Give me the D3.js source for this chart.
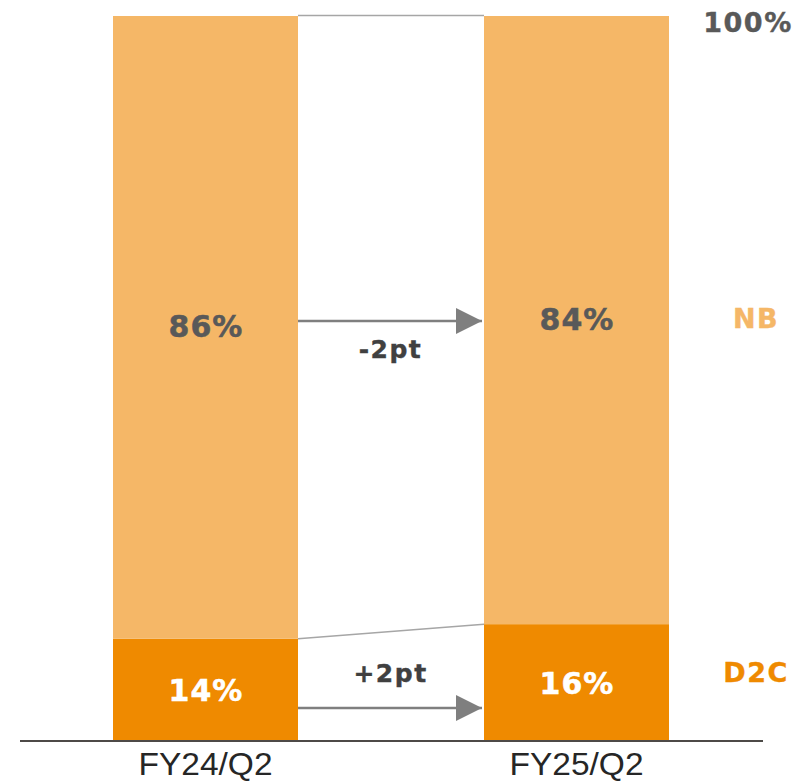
<!DOCTYPE html>
<html>
<head>
<meta charset="utf-8">
<script src="https://cdn.jsdelivr.net/npm/d3@7"></script>
<style>
  html, body { margin: 0; padding: 0; background: #fff; }
  svg { display: block; }
</style>
</head>
<body>
<svg id="chart" width="800" height="782"></svg>
<script>
// Share of sales by channel (%)
const categories = ["FY24/Q2", "FY25/Q2"];
const d2cShare = [14, 16];
const nbShare = [86, 84];
const seriesNames = ["D2C", "NB"];
const changeLabels = ["+2pt", "-2pt"];
const totalLabel = "100%";

const colors = { D2C: "#ef8a00", NB: "#f5b767" };
const boldFont = "'DejaVu Sans', Verdana, sans-serif";
const axisFont = "'Liberation Sans', Arial, sans-serif";

const svg = d3.select("#chart");

// bar centres and vertical share scale
const xc = d3.scalePoint().domain(categories).range([205.5, 576.5]);
const barW = 185;
const y = d3.scaleLinear().domain([0, 100]).range([740, 16]);

const rows = categories.map((c, i) => ({ cat: c, d2c: d2cShare[i], nb: nbShare[i] }));
const stack = d3.stack().keys(seriesNames)(rows.map(r => ({ cat: r.cat, D2C: r.d2c, NB: r.nb })));

// stacked bars
svg.append("g").selectAll("g")
  .data(stack)
  .join("g")
  .attr("fill", s => colors[s.key])
  .selectAll("rect")
  .data(s => s)
  .join("rect")
  .attr("x", d => xc(d.data.cat) - barW / 2)
  .attr("width", barW)
  .attr("y", d => y(d[1]))
  .attr("height", d => y(d[0]) - y(d[1]));

// connector lines between the bar tops
const conn = svg.append("g").attr("stroke", "#a6a6a6").attr("stroke-width", 1.5).attr("fill", "none");
const xr0 = xc(categories[0]) + barW / 2, xl1 = xc(categories[1]) - barW / 2;
conn.append("line")
  .attr("x1", xr0).attr("x2", xl1)
  .attr("y1", y(d2cShare[0] + nbShare[0]) - 0.5).attr("y2", y(d2cShare[1] + nbShare[1]) - 0.5);
conn.append("line")
  .attr("x1", xr0).attr("x2", xl1)
  .attr("y1", y(d2cShare[0])).attr("y2", y(d2cShare[1]));

// baseline axis
svg.append("line")
  .attr("x1", 20).attr("x2", 763)
  .attr("y1", y(0) + 1).attr("y2", y(0) + 1)
  .attr("stroke", "#4d4a47").attr("stroke-width", 2);

svg.append("g").selectAll("text")
  .data(categories)
  .join("text")
  .attr("x", d => xc(d))
  .attr("y", 775)
  .attr("text-anchor", "middle")
  .attr("font-family", axisFont)
  .attr("font-size", 31)
  .attr("textLength", 134)
  .attr("lengthAdjust", "spacingAndGlyphs")
  .attr("fill", "#262626")
  .text(d => d);

// value labels inside bars
const valLabels = svg.append("g")
  .attr("text-anchor", "middle")
  .attr("font-family", boldFont)
  .attr("font-weight", "bold")
  .attr("font-size", 30)
  .attr("letter-spacing", 1)
  .attr("stroke-width", 0.5);
valLabels.selectAll("text.nb")
  .data(rows)
  .join("text")
  .attr("class", "nb")
  .attr("x", d => xc(d.cat) + 0.5)
  .attr("y", d => (y(100) + y(d.d2c)) / 2 + 10)
  .attr("fill", "#595959").attr("stroke", "#595959")
  .text(d => d.nb + "%");
valLabels.selectAll("text.d2c")
  .data(rows)
  .join("text")
  .attr("class", "d2c")
  .attr("x", d => xc(d.cat) + 0.5)
  .attr("y", d => (y(0) + y(d.d2c)) / 2 + 12)
  .attr("fill", "#ffffff").attr("stroke", "#ffffff")
  .text(d => d.d2c + "%");

// change arrows
svg.append("defs").append("marker")
  .attr("id", "tri")
  .attr("viewBox", "0 0 10 10")
  .attr("refX", 10).attr("refY", 5)
  .attr("markerUnits", "userSpaceOnUse")
  .attr("markerWidth", 28).attr("markerHeight", 26)
  .attr("orient", "auto")
  .append("path")
  .attr("d", "M0,0L10,5L0,10Z")
  .attr("fill", "#7f7f7f");

const arrowY = [708, 321];
const arrowTextY = [682, 358];
changeLabels.forEach((lab, i) => {
  svg.append("line")
    .attr("x1", xr0).attr("x2", xl1 - 2)
    .attr("y1", arrowY[i]).attr("y2", arrowY[i])
    .attr("stroke", "#7f7f7f").attr("stroke-width", 2.5)
    .attr("marker-end", "url(#tri)");
  svg.append("text")
    .attr("x", 390.5).attr("y", arrowTextY[i])
    .attr("text-anchor", "middle")
    .attr("font-family", boldFont)
    .attr("font-weight", "bold")
    .attr("font-size", 25)
    .attr("letter-spacing", 1.5)
    .attr("fill", "#404040").attr("stroke", "#404040").attr("stroke-width", 0.4)
    .text(lab);
});

// right-hand legend labels
svg.append("text")
  .attr("x", 748).attr("y", 32)
  .attr("text-anchor", "middle")
  .attr("font-family", boldFont).attr("font-weight", "bold").attr("font-size", 27)
  .attr("letter-spacing", 1.5)
  .attr("fill", "#595959").attr("stroke", "#595959").attr("stroke-width", 0.4)
  .text(totalLabel);
const legendY = { NB: 328, D2C: 682 };
svg.append("g").selectAll("text")
  .data(seriesNames)
  .join("text")
  .attr("x", 756)
  .attr("y", d => legendY[d])
  .attr("text-anchor", "middle")
  .attr("font-family", boldFont).attr("font-weight", "bold").attr("font-size", 27)
  .attr("letter-spacing", 1.5)
  .attr("fill", d => colors[d]).attr("stroke", d => colors[d]).attr("stroke-width", 0.4)
  .text(d => d);
</script>
</body>
</html>
